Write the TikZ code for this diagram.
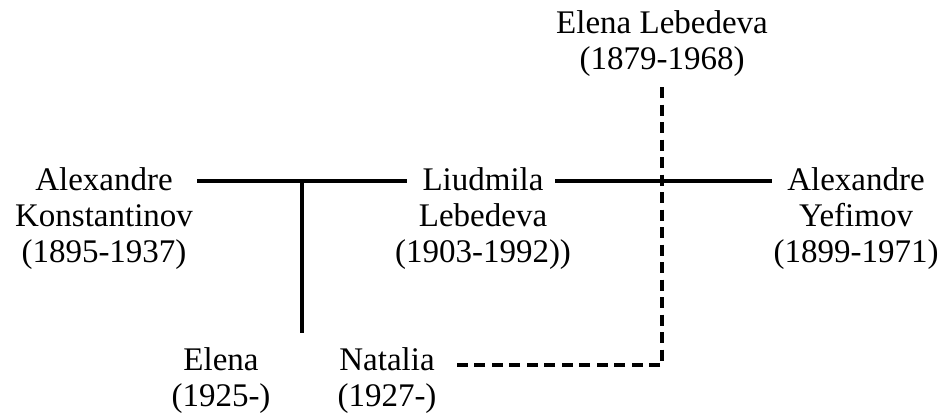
\documentclass[tikz,border=0pt]{standalone}
\usepackage{fontspec}
\setmainfont{Liberation Serif}
\begin{document}
\begin{tikzpicture}[x=1pt,y=-1pt,
  person/.style={align=center,inner sep=0pt,anchor=north,
    font=\fontsize{33}{36}\selectfont},
  marriage/.style={line width=4pt},
  descent/.style={line width=3.2pt,dash pattern=on 11pt off 6.5pt}]
\useasboundingbox[fill=white] (0,0) rectangle (942,416);
% people (top edge = first baseline - ascender)
\node[person] (el) at (662,10)  {Elena Lebedeva\\(1879-1968)};
\node[person] (ak) at (104,167) {Alexandre\\Konstantinov\\(1895-1937)};
\node[person] (ll) at (483,167) {Liudmila\\Lebedeva\\(1903-1992))};
\node[person] (ay) at (856,167) {Alexandre\\Yefimov\\(1899-1971)};
\node[person] (e)  at (221,347) {Elena\\(1925-)};
\node[person] (n)  at (387,347) {Natalia\\(1927-)};
% line ends
\coordinate (akR) at (197,181);
\coordinate (llL) at (407,181);
\coordinate (llR) at (555,181);
\coordinate (ayL) at (772,181);
\coordinate (m1)  at (302,181);
\coordinate (c1)  at (302,333);
\coordinate (elB) at (662,87);
\coordinate (nk)  at (662,365);
\coordinate (nR)  at (453,365);
% marriages and children
\draw[marriage] (akR) -- (llL);
\draw[marriage] (llR) -- (ayL);
\draw[marriage] (m1) -- (c1);
\draw[descent] (elB) -- (nk) -- (nR);
\end{tikzpicture}
\end{document}
